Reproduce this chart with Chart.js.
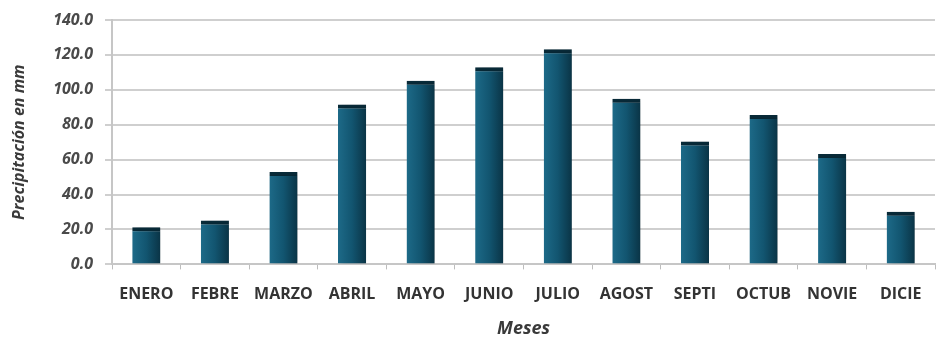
<!DOCTYPE html>
<html><head><meta charset="utf-8">
<script src="https://cdn.jsdelivr.net/npm/chart.js@4/dist/chart.umd.min.js"></script>
<style>html,body{margin:0;padding:0;background:#fff}#wrap{width:939px;height:338px}</style>
</head><body><div id="wrap"><canvas id="c" width="939" height="338"></canvas></div>
<script>
const months = ["ENERO","FEBRE","MARZO","ABRIL","MAYO","JUNIO","JULIO","AGOST","SEPTI","OCTUB","NOVIE","DICIE"];
const precipitation = [21.3, 25.2, 53.0, 91.6, 105.2, 112.9, 123.3, 94.9, 70.4, 85.6, 63.2, 30.1];
const yTicks = [0, 20, 40, 60, 80, 100, 120, 140];
const yTitle = "Precipitación en mm";
const xTitle = "Meses";

const shadowPlugin = {
  id: 'shadow',
  beforeDatasetsDraw(chart) {
    const ctx = chart.ctx; ctx.save();
    ctx.shadowColor = 'rgba(0,0,0,0.35)'; ctx.shadowBlur = 5; ctx.shadowOffsetX = 3; ctx.shadowOffsetY = 1;
  },
  afterDatasetsDraw(chart) { chart.ctx.restore(); }
};

function barGradient(context) {
  const chart = context.chart;
  const xs = chart.scales && chart.scales.x;
  if (!xs || !chart.chartArea || context.dataIndex === undefined) return '#12546d';
  const cx = xs.getPixelForValue(context.dataIndex);
  const w = (chart.chartArea.right - chart.chartArea.left) / months.length * 0.41;
  if (!isFinite(cx) || !isFinite(w)) return '#12546d';
  const g = chart.ctx.createLinearGradient(cx - w / 2, 0, cx + w / 2, 0);
  g.addColorStop(0, '#1d6a88');
  g.addColorStop(0.5, '#125570');
  g.addColorStop(1, '#0a3446');
  return g;
}

new Chart(document.getElementById('c'), {
  type: 'bar',
  data: {
    labels: months,
    datasets: [{
      data: precipitation,
      backgroundColor: barGradient,
      borderColor: '#082a38',
      borderWidth: {top: 4, left: 0, right: 0, bottom: 0},
      borderSkipped: false,
      categoryPercentage: 0.41,
      barPercentage: 1.0
    }]
  },
  options: {
    responsive: false,
    animation: false,
    layout: {autoPadding: false, padding: {left: 10, right: 4, top: 13, bottom: 0}},
    plugins: {legend: {display: false}, tooltip: {enabled: false}},
    scales: {
      x: {
        grid: {offset: true, drawOnChartArea: false, color: '#bdbdbd', tickLength: 5, lineWidth: 1},
        border: {color: '#c6c6c6', width: 2},
        ticks: {color: '#333', font: {family: 'Open Sans', weight: 'bold', size: 16, lineHeight: 1.1}, padding: 16, maxRotation: 0},
        title: {display: true, text: xTitle, color: '#3a3a3a', font: {family: 'Open Sans', weight: 'bold', style: 'italic', size: 18, lineHeight: 1.0}, padding: {top: 1, bottom: 0}}
      },
      y: {
        min: 0, max: 140,
        afterBuildTicks(axis) { axis.ticks = yTicks.map(v => ({value: v})); },
        grid: {color: '#cfcfcf', lineWidth: 2, tickLength: 7},
        border: {color: '#c6c6c6', width: 2},
        ticks: {color: '#4a4a4a', font: {family: 'Open Sans', weight: 'bold', style: 'italic', size: 16, lineHeight: 1.0}, padding: 12,
                callback: v => Number(v).toFixed(1)},
        title: {display: true, text: yTitle, color: '#3a3a3a', font: {family: 'Open Sans', weight: 'bold', style: 'italic', size: 16}, padding: {top: 0, bottom: 12}}
      }
    }
  },
  plugins: [shadowPlugin]
});
</script></body></html>
